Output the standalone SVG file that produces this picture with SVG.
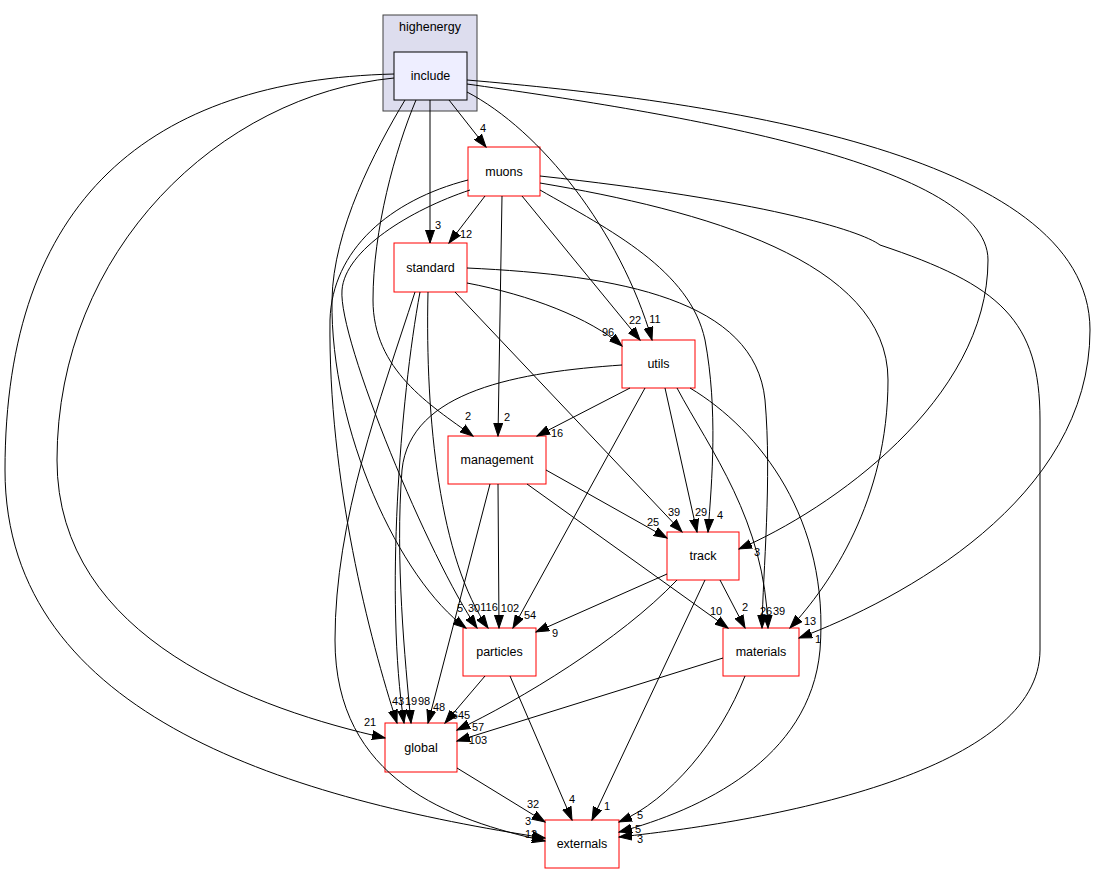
<svg xmlns="http://www.w3.org/2000/svg" width="1096" height="873" viewBox="0 0 1096 873">
<style>
.node rect{fill:#ffffff;stroke:#ff0000;stroke-width:1}
.ntext{font-family:"Liberation Sans",Arial,sans-serif;font-size:12.5px;text-anchor:middle;fill:#000}
.edges path{fill:none;stroke:#000;stroke-width:1;marker-end:url(#arr)}
.lbl{font-family:"Liberation Sans",Arial,sans-serif;font-size:11px;text-anchor:middle;fill:#000}
</style>
<defs>
<marker id="arr" markerUnits="userSpaceOnUse" markerWidth="14" markerHeight="10" viewBox="0 0 14 10" refX="13" refY="5" orient="auto">
<path d="M0,0.5 L13,5 L0,9.5 z" fill="#000" stroke="#000" stroke-width="1"/>
</marker>
</defs>
<rect width="1096" height="873" fill="#ffffff"/>
<g id="cluster_highenergy">
<rect x="383" y="15" width="94" height="96" fill="#ddddee" stroke="#404040" stroke-width="1"/>
<text class="ntext" x="430" y="31">highenergy</text>
</g>
<g id="include">
<rect x="394" y="52" width="73" height="48" fill="#eeeeff" stroke="#000" stroke-width="1"/>
<text class="ntext" x="430.5" y="80">include</text>
</g>
<g id="muons" class="node"><rect x="468" y="147" width="72" height="49"/><text class="ntext" x="504" y="176">muons</text></g>
<g id="standard" class="node"><rect x="394" y="243" width="73" height="49"/><text class="ntext" x="430.5" y="272">standard</text></g>
<g id="utils" class="node"><rect x="622" y="340" width="73" height="48"/><text class="ntext" x="658.5" y="368">utils</text></g>
<g id="management" class="node"><rect x="448" y="436" width="98" height="48"/><text class="ntext" x="497" y="464">management</text></g>
<g id="track" class="node"><rect x="667" y="532" width="72" height="48"/><text class="ntext" x="703" y="560">track</text></g>
<g id="particles" class="node"><rect x="463" y="628" width="73" height="48"/><text class="ntext" x="499.5" y="656">particles</text></g>
<g id="materials" class="node"><rect x="723" y="628" width="76" height="48"/><text class="ntext" x="761" y="656">materials</text></g>
<g id="global" class="node"><rect x="385" y="723" width="72" height="49"/><text class="ntext" x="421" y="752">global</text></g>
<g id="externals" class="node"><rect x="545" y="820" width="74" height="48"/><text class="ntext" x="582" y="848">externals</text></g>
<g id="connectors" class="edges">
<path d="M449,100 L486,147"/>
<path d="M430,100 L430,243"/>
<path d="M467,92 C540,130 620,230 652,340"/>
<path d="M467,84 C650,110 988,160 988,260 C988,400 830,510 739,549"/>
<path d="M467,80 C700,100 1090,150 1090,330 C1090,500 900,600 799,638"/>
<path d="M394,78 C220,95 57,250 57,460 C57,640 260,710 385,738"/>
<path d="M394,74 C150,80 5,200 5,470 C5,720 300,800 545,838"/>
<path d="M416,100 C395,150 373,230 373,300 C373,370 430,405 473,436"/>
<path d="M405,100 C375,150 333,230 332,300 C330,430 400,580 466,628"/>
<path d="M485,196 L449,243"/>
<path d="M502,196 L498,436"/>
<path d="M522,196 L640,340"/>
<path d="M540,190 C610,230 690,270 705,340 C718,410 712,480 708,532"/>
<path d="M540,183 C700,210 888,260 888,380 C888,500 830,585 790,628"/>
<path d="M540,176 C760,200 860,230 880,245 C1000,285 1040,320 1040,420 L1040,650 C1040,770 780,820 619,837"/>
<path d="M468,180 C390,200 332,250 330,320 C328,480 370,640 397,723"/>
<path d="M470,190 C410,210 345,250 342,290 C338,340 430,560 477,628"/>
<path d="M467,283 C530,295 590,318 622,346"/>
<path d="M455,292 L682,532"/>
<path d="M467,268 C620,275 755,300 765,400 C772,480 763,570 762,628"/>
<path d="M420,292 C400,400 385,600 404,723"/>
<path d="M428,292 C425,420 440,560 488,628"/>
<path d="M415,292 C380,400 335,520 335,640 C335,780 450,820 545,841"/>
<path d="M630,388 L537,436"/>
<path d="M645,388 L513,628"/>
<path d="M665,388 L697,532"/>
<path d="M677,388 C710,450 765,520 768,628"/>
<path d="M690,388 C760,430 830,520 820,650 C810,760 700,810 619,832"/>
<path d="M622,365 C520,372 410,390 402,470 C395,560 405,660 411,723"/>
<path d="M490,484 L428,723"/>
<path d="M498,484 L499,628"/>
<path d="M546,470 L667,538"/>
<path d="M527,484 L728,628"/>
<path d="M667,574 L536,632"/>
<path d="M677,580 C620,640 520,700 457,730"/>
<path d="M720,580 L745,628"/>
<path d="M705,580 L592,820"/>
<path d="M485,676 L445,723"/>
<path d="M510,676 L572,820"/>
<path d="M723,658 L457,741"/>
<path d="M745,676 C720,740 670,800 619,822"/>
<path d="M457,768 L545,822"/>
</g>
<g id="labels">
<text class="lbl" x="483" y="132">4</text>
<text class="lbl" x="438" y="229">3</text>
<text class="lbl" x="466" y="238">12</text>
<text class="lbl" x="608" y="336">96</text>
<text class="lbl" x="635" y="324">22</text>
<text class="lbl" x="655" y="323">11</text>
<text class="lbl" x="468" y="420">2</text>
<text class="lbl" x="507" y="421">2</text>
<text class="lbl" x="557" y="437">16</text>
<text class="lbl" x="653" y="526">25</text>
<text class="lbl" x="674" y="516">39</text>
<text class="lbl" x="701" y="516">29</text>
<text class="lbl" x="720" y="519">4</text>
<text class="lbl" x="757" y="556">3</text>
<text class="lbl" x="460" y="612">5</text>
<text class="lbl" x="474" y="612">30</text>
<text class="lbl" x="489" y="611">116</text>
<text class="lbl" x="510" y="612">102</text>
<text class="lbl" x="530" y="619">54</text>
<text class="lbl" x="555" y="637">9</text>
<text class="lbl" x="716" y="615">10</text>
<text class="lbl" x="745" y="611">2</text>
<text class="lbl" x="766" y="615">26</text>
<text class="lbl" x="779" y="615">39</text>
<text class="lbl" x="810" y="625">13</text>
<text class="lbl" x="818" y="643">1</text>
<text class="lbl" x="370" y="726">21</text>
<text class="lbl" x="398" y="705">43</text>
<text class="lbl" x="411" y="705">19</text>
<text class="lbl" x="424" y="705">98</text>
<text class="lbl" x="439" y="711">48</text>
<text class="lbl" x="461" y="719">645</text>
<text class="lbl" x="478" y="731">57</text>
<text class="lbl" x="478" y="744">103</text>
<text class="lbl" x="533" y="808">32</text>
<text class="lbl" x="572" y="803">4</text>
<text class="lbl" x="607" y="810">1</text>
<text class="lbl" x="640" y="819">5</text>
<text class="lbl" x="638" y="833">5</text>
<text class="lbl" x="640" y="843">3</text>
<text class="lbl" x="528" y="825">3</text>
<text class="lbl" x="531" y="838">12</text>
</g>
</svg>
